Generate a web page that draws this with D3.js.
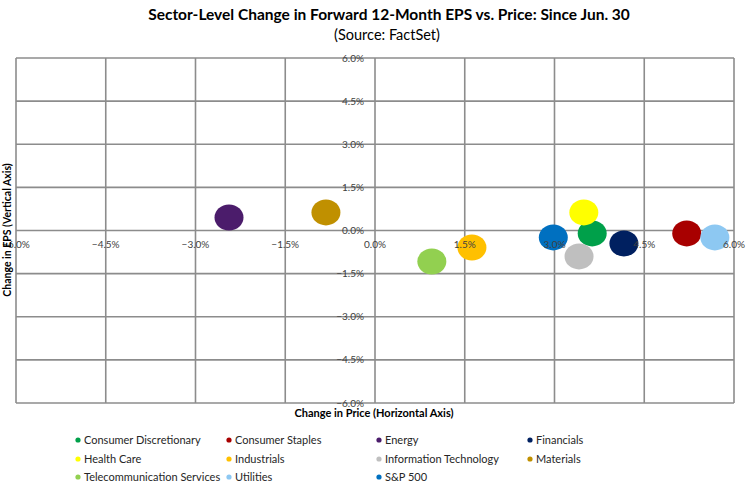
<!DOCTYPE html>
<html lang="en">
<head>
  <meta charset="UTF-8">
  <title>Sector-Level Change in Forward 12-Month EPS vs. Price</title>
  <script src="https://d3js.org/d3.v7.min.js"></script>
  <style>
    body { margin: 0; padding: 0; background: #fff; overflow: hidden; }
    svg { display: block; font-family: Lato, "Open Sans", sans-serif; }
    .grid line { stroke: #8c8c8c; stroke-width: 1.6px; }
    .tick-label { font-size: 10px; fill: #404040; }
    .legend text { font-size: 11px; fill: #262626; }
  </style>
</head>
<body>
  <svg id="chart" width="750" height="492"></svg>

  <script>
    const sectors = ["Consumer Discretionary", "Consumer Staples", "Energy", "Financials",
                     "Health Care", "Industrials", "Information Technology", "Materials",
                     "Telecommunication Services", "Utilities", "S&P 500"];
    const priceChange = [3.63, 5.21, -2.44, 4.16, 3.49, 1.62, 3.41, -0.82, 0.95, 5.68, 2.98];
    const epsChange   = [-0.10, -0.10, 0.45, -0.45, 0.63, -0.59, -0.90, 0.63, -1.08, -0.24, -0.24];
    const colors = ["#00A04A", "#A80000", "#4B1C6B", "#002060", "#FFFF00", "#FFC000",
                    "#BFBFBF", "#C09000", "#92D050", "#8DC8F2", "#0070C0"];
    const ticks = [-6, -4.5, -3, -1.5, 0, 1.5, 3, 4.5, 6];

    const svg = d3.select("#chart");
    const plotL = 16, plotR = 734, plotT = 58, plotB = 403;

    const x = d3.scaleLinear().domain([-6, 6]).range([plotL, plotR]);
    const y = d3.scaleLinear().domain([-6, 6]).range([plotB, plotT]);
    const fmt = d => d3.format(".1f")(d) + "%";

    // titles
    svg.append("text").attr("x", 389).attr("y", 20).attr("text-anchor", "middle")
      .style("font-size", "15.5px").style("font-weight", "bold").attr("fill", "#000")
      .text("Sector-Level Change in Forward 12-Month EPS vs. Price: Since Jun. 30");
    svg.append("text").attr("x", 387).attr("y", 40).attr("text-anchor", "middle")
      .style("font-size", "14.5px").attr("fill", "#000")
      .text("(Source: FactSet)");

    // grid
    const grid = svg.append("g").attr("class", "grid");
    grid.selectAll("line.v").data(ticks).join("line").attr("class", "v")
      .attr("x1", d => x(d)).attr("x2", d => x(d)).attr("y1", plotT).attr("y2", plotB);
    grid.selectAll("line.h").data(ticks).join("line").attr("class", "h")
      .attr("y1", d => y(d)).attr("y2", d => y(d)).attr("x1", plotL).attr("x2", plotR);

    // bubbles
    svg.append("g").selectAll("ellipse")
      .data(sectors.map((s, i) => ({ s, px: priceChange[i], eps: epsChange[i], c: colors[i] })))
      .join("ellipse")
      .attr("cx", d => x(d.px)).attr("cy", d => y(d.eps))
      .attr("rx", 14.5).attr("ry", 13)
      .attr("fill", d => d.c);

    // tick labels (drawn over the bubbles, as in the original)
    svg.append("g").selectAll("text")
      .data(ticks).join("text").attr("class", "tick-label")
      .attr("x", d => x(d)).attr("y", y(0) + 17).attr("text-anchor", "middle")
      .text(fmt);
    svg.append("g").selectAll("text")
      .data(ticks).join("text").attr("class", "tick-label")
      .attr("x", x(0) - 11).attr("y", d => y(d) + 3.5).attr("text-anchor", "end")
      .text(fmt);

    // axis titles
    svg.append("text").attr("x", 374).attr("y", 417).attr("text-anchor", "middle")
      .style("font-size", "11px").style("font-weight", "bold").attr("fill", "#000")
      .text("Change in Price (Horizontal Axis)");
    svg.append("text").attr("transform", "translate(11,230) rotate(-90)")
      .attr("text-anchor", "middle")
      .style("font-size", "10.5px").style("font-weight", "bold").attr("fill", "#000")
      .text("Change in EPS (Vertical Axis)");

    // legend
    const colX = [78, 229, 379, 530], rowY = [440, 459, 477];
    const leg = svg.append("g").attr("class", "legend").selectAll("g")
      .data(sectors).join("g")
      .attr("transform", (d, i) => `translate(${colX[i % 4]},${rowY[Math.floor(i / 4)]})`);
    leg.append("circle").attr("r", 2.6).attr("fill", (d, i) => colors[i]);
    leg.append("text").attr("x", 6).attr("y", 4).text(d => d);
  </script>
</body>
</html>
